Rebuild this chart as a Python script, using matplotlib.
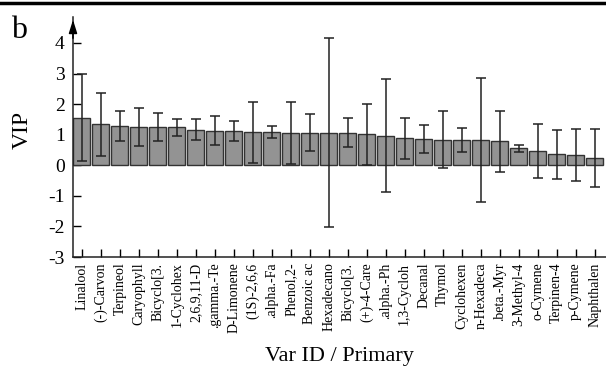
import numpy as np
import matplotlib
matplotlib.use("Agg")
import matplotlib.pyplot as plt
from matplotlib.lines import Line2D

plt.rcParams['font.family'] = ['Liberation Serif', 'DejaVu Serif']
plt.rcParams['axes.unicode_minus'] = False

# variable names (truncated as in the original software output)
var_names = ["Linalool", "(-)-Carvon", "Terpineol", "Caryophyll", "Bicyclo[3.",
             "1-Cyclohex", "2,6,9,11-D", ".gamma.-Te", "D-Limonene", "(1S)-2,6,6",
             ".alpha.-Fa", "Phenol,2-", "Benzoic ac", "Hexadecano", "Bicyclo[3.",
             "(+)-4-Care", ".alpha.-Ph", "1,3-Cycloh", "Decanal", "Thymol",
             "Cyclohexen", "n-Hexadeca", ".beta.-Myr", "3-Methyl-4", "o-Cymene",
             "Terpinen-4", "p-Cymene", "Naphthalen"]

# VIP values and their confidence half-widths
vip = [1.56, 1.34, 1.29, 1.25, 1.25, 1.25, 1.17, 1.13, 1.12, 1.08,
       1.10, 1.06, 1.07, 1.07, 1.07, 1.01, 0.97, 0.89, 0.86, 0.84,
       0.83, 0.82, 0.79, 0.55, 0.48, 0.36, 0.33, 0.23]
vip_err = [1.42, 1.03, 0.49, 0.63, 0.45, 0.28, 0.35, 0.47, 0.33, 0.99,
           0.20, 1.02, 0.61, 3.10, 0.48, 1.01, 1.86, 0.67, 0.46, 0.93,
           0.40, 2.02, 1.00, 0.11, 0.88, 0.81, 0.85, 0.95]

W, H = 606, 374
fig = plt.figure(figsize=(W / 100, H / 100), dpi=100)
ax = fig.add_axes([73 / W, (H - 257) / H, (W - 73) / W, (257 - 17) / H])

x = np.arange(len(vip))
ax.bar(x, vip, width=0.9, color='#939393', edgecolor='#333333', linewidth=1.0, zorder=2)
ax.errorbar(x, vip, yerr=vip_err, fmt='none', ecolor='#222222', elinewidth=1.1,
            capsize=3.3, capthick=1.1, zorder=3)

ax.set_xlim(-0.47, 27.6)
ax.set_ylim(-3, 4.85)
ax.set_yticks(range(-3, 5))
ax.set_xticks(x)
ax.set_xticklabels(var_names, rotation=90, fontsize=10)
ax.tick_params(axis='y', direction='in', length=6, width=1, labelsize=14, pad=6)
ax.tick_params(axis='x', direction='in', length=6, width=1, pad=4)

for s in ['top', 'right']:
    ax.spines[s].set_visible(False)
for s in ['left', 'bottom']:
    ax.spines[s].set_linewidth(1.1)
    ax.spines[s].set_color('#222222')

# arrow on top of y axis
ax.annotate('', xy=(0, 1.0), xytext=(0, 0.9), xycoords='axes fraction',
            arrowprops=dict(arrowstyle='-|>,head_width=0.25,head_length=0.8',
                            color='black', lw=1.1), annotation_clip=False)

fig.text(22 / W, 1 - 130 / H, "VIP", fontsize=17, rotation=90, ha='center', va='center')
fig.text(339 / W, 1 - 357 / H, "Var ID / Primary", fontsize=16, ha='center', va='center')
fig.text(11 / W, 1 - 31 / H, "b", fontsize=23, va='center')
fig.add_artist(Line2D([0, 1], [1 - 2.5 / H, 1 - 2.5 / H], color='black', lw=2.5,
                      transform=fig.transFigure))

fig.savefig("out.png", dpi=100)
